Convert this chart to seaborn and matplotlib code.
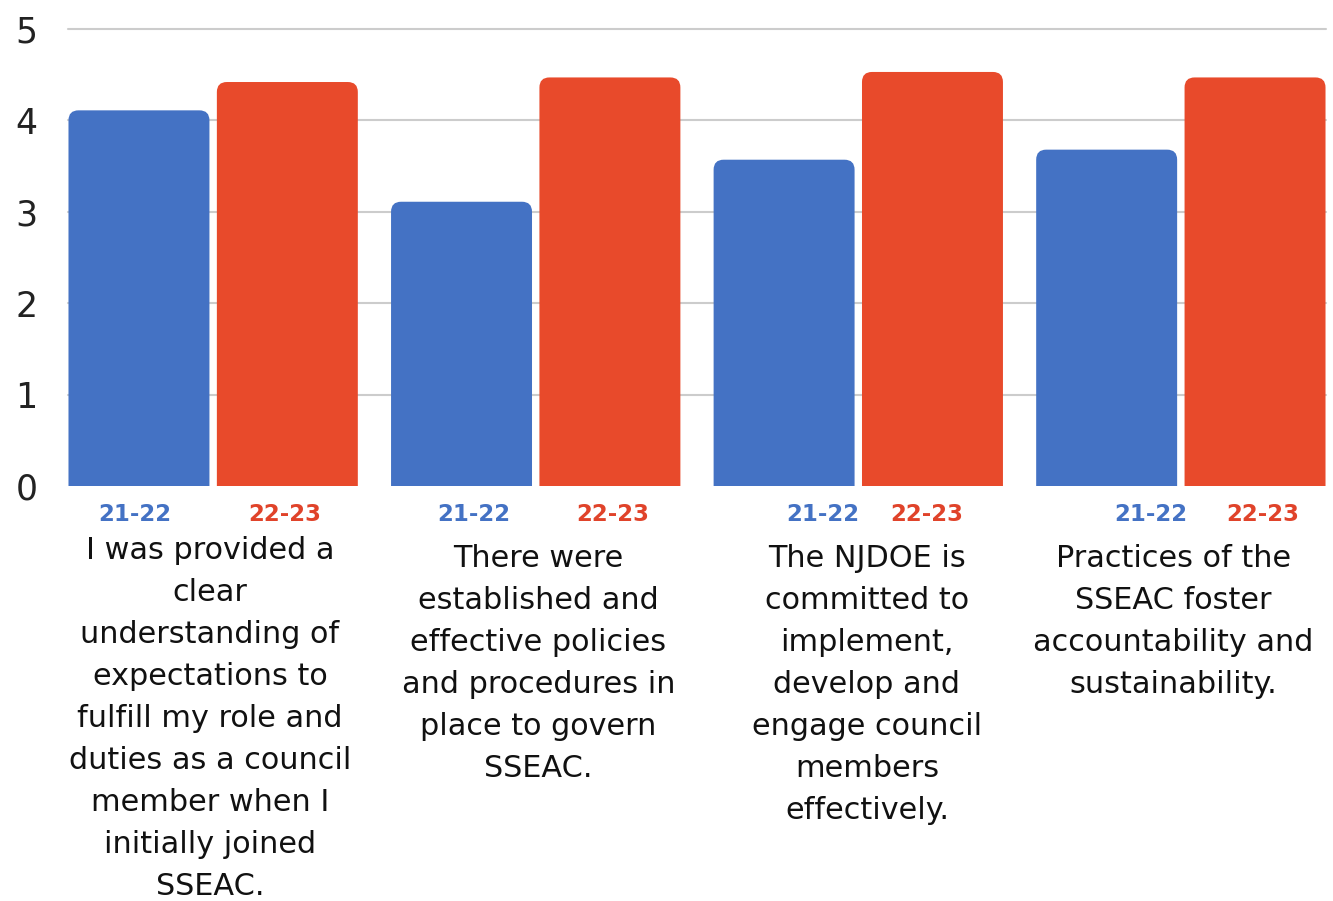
import pandas as pd
import numpy as np
import matplotlib
matplotlib.use('Agg')
import matplotlib.pyplot as plt
import seaborn as sns
from matplotlib.patches import FancyBboxPatch
import matplotlib.transforms as mtransforms

# Data
questions = [
    "I was provided a\nclear\nunderstanding of\nexpectations to\nfulfill my role and\nduties as a council\nmember when I\ninitially joined\nSSEAC.",
    "There were\nestablished and\neffective policies\nand procedures in\nplace to govern\nSSEAC.",
    "The NJDOE is\ncommitted to\nimplement,\ndevelop and\nengage council\nmembers\neffectively.",
    "Practices of the\nSSEAC foster\naccountability and\nsustainability.",
]
years = ["21-22", "22-23"]
scores_2122 = [4.11, 3.11, 3.57, 3.68]
scores_2223 = [4.42, 4.47, 4.53, 4.47]

colors = {"21-22": "#4472C4", "22-23": "#E84A2B"}
label_colors = {"21-22": "#4472C4", "22-23": "#E0432A"}

# label placement (offsets from category centre, data units)
year_label_offsets = [(-0.243, 0.222), (-0.193, 0.240), (-0.110, 0.212), (-0.094, 0.253)]
question_offsets = [-0.01, 0.008, 0.027, -0.023]
question_top_px = [559, 567, 567, 567]

df = pd.DataFrame({
    "question": list(range(len(questions))) * 2,
    "year": [years[0]] * len(questions) + [years[1]] * len(questions),
    "score": scores_2122 + scores_2223,
})

sns.set_style("white")
plt.rcParams['font.family'] = ['DejaVu Sans']

W, H = 1333, 901
fig = plt.figure(figsize=(W / 100, H / 100), dpi=100)
ax_left, ax_right, ax_top, ax_bottom = 68, 1326, 29, 486
ax = fig.add_axes([ax_left / W, 1 - ax_bottom / H, (ax_right - ax_left) / W, (ax_bottom - ax_top) / H])

sns.barplot(data=df, x="question", y="score", hue="year", palette=colors,
            width=0.92, gap=0.05, saturation=1, ax=ax, legend=False, zorder=3)

ax.set_xlim(-0.45, len(questions) - 0.55)
ax.set_ylim(0, 5)
ax.set_yticks(range(6))
ax.yaxis.grid(True, color="#cccccc", linewidth=1.5, zorder=0)
ax.set_axisbelow(True)
for s in ax.spines.values():
    s.set_visible(False)
ax.tick_params(axis='y', length=0, pad=22, labelsize=25, labelcolor="#222222")
ax.set_xticks([])
ax.set_xlabel("")
ax.set_ylabel("")
gl = ax.yaxis.get_gridlines()
gl[0].set_visible(False)
for g in gl:
    g.set_clip_on(False)

# swap bars for rounded-top versions
px_per_x = (ax_right - ax_left) / (len(questions) - 0.1)
px_per_y = (ax_bottom - ax_top) / 5
aspect = px_per_x / px_per_y
radius = 10 / px_per_x
for p in list(ax.patches):
    x, w, h = p.get_x(), p.get_width(), p.get_height()
    fc = p.get_facecolor()
    p.remove()
    rp = FancyBboxPatch((x, -1), w, h + 1,
                        boxstyle=f"round,pad=0,rounding_size={radius}",
                        mutation_aspect=aspect, facecolor=fc, edgecolor="none",
                        zorder=3, clip_on=True)
    ax.add_patch(rp)

trans = mtransforms.blended_transform_factory(ax.transData, ax.transAxes)
axh = ax_bottom - ax_top
for i, q in enumerate(questions):
    for j, yr in enumerate(years):
        ax.text(i + year_label_offsets[i][j], -(521 - ax_bottom) / axh, yr,
                transform=trans, ha='center', va='baseline', fontsize=16.5,
                fontweight='bold', color=label_colors[yr])
    for k, line in enumerate(q.split("\n")):
        ax.text(i + question_offsets[i], -(question_top_px[i] + 42 * k - ax_bottom) / axh, line,
                transform=trans, ha='center', va='baseline', fontsize=21.8,
                color="#111111")

fig.savefig("out.png", dpi=100)
